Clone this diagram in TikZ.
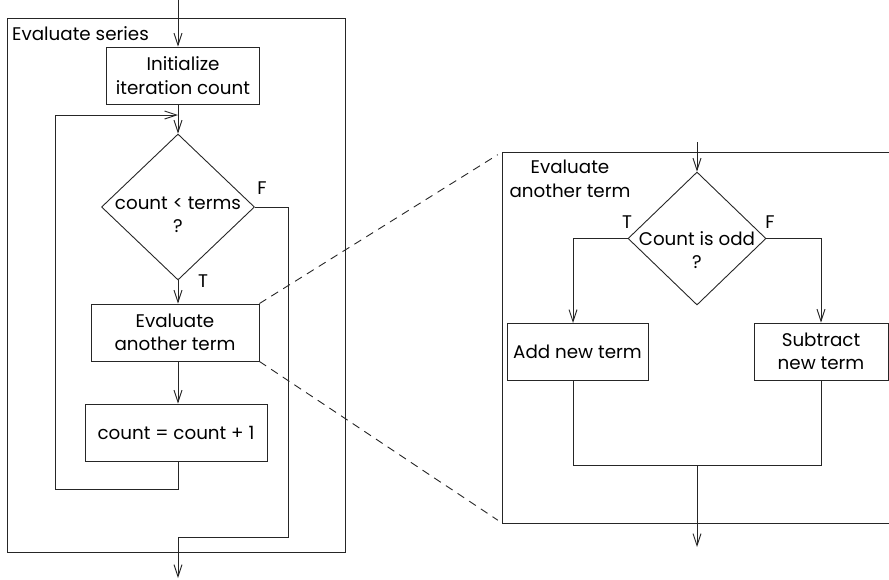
\documentclass[tikz,border=0pt]{standalone}
\usepackage{fontspec}
\setmainfont{Poppins}
\usetikzlibrary{arrows.meta,shapes.geometric}
\tikzset{
  x=1pt,y=-1pt,
  every node/.style={font=\fontsize{18.3}{23.5}\selectfont, align=center},
  line/.style={draw=black!85, line width=0.9pt},
  arr/.style={line, -{Straight Barb[length=12pt,width=8pt]}},
  box/.style={draw=black!85, line width=0.9pt, rectangle, inner sep=0pt, minimum height=57pt},
  dia/.style={draw=black!85, line width=0.9pt, diamond, inner sep=0pt},
  lbl/.style={inner sep=0pt},
}
\begin{document}
\begin{tikzpicture}
\useasboundingbox (0,0) rectangle (889,579);
% ---------- left panel ----------
\draw[line] (7,18) rectangle (345,552);
\node[lbl, anchor=west] (serieslbl) at (12,34) {Evaluate series};
\coordinate (topin) at (178,0);
\node[box, minimum width=153pt] (init) at (183,75.5) {Initialize\\iteration count};
\node[dia, minimum width=153pt, minimum height=146pt] (d1) at (178,207) {};
\node[lbl] (d1t) at (178,215) {count < terms\\?};
\node[lbl] (F1) at (262,188) {F};
\node[lbl] (T1) at (203,281) {T};
\node[box, minimum width=168pt] (eval) at (175,332.5) {Evaluate\\another term};
\node[box, minimum width=182pt] (cnt) at (176,432.5) {count = count + 1};
\coordinate (loopjoin) at (178,115);
\coordinate (exitpt) at (178,578);

\draw[arr] (topin) -- (topin |- init.north);
\draw[arr] (init.south -| topin) -- (d1.north);
\draw[arr] (d1.south) -- (eval.north -| d1.south);
\draw[arr] (eval.south -| d1.south) -- (cnt.north -| d1.south);
\draw[arr] (cnt.south -| d1.south) -- (178,489) -- (55,489) -- (55,115) -- (loopjoin);
\draw[arr] (d1.east) -- (288,207) -- (288,537) -- (178,537) -- (exitpt);

% ---------- right panel ----------
\draw[line] (889,152) -- (502,152) -- (502,523) -- (889,523);
\coordinate (pTL) at (502,152);
\coordinate (pBL) at (502,523);
\draw[line, dashed, dash pattern=on 8pt off 6pt, shorten >=5pt] (eval.north east) -- (pTL);
\draw[line, dashed, dash pattern=on 8pt off 6pt, shorten >=5pt] (eval.south east) -- (pBL);
\node[lbl] (panellbl) at (570,179) {Evaluate\\another term};
\coordinate (rin) at (697,142);
\node[dia, minimum width=138pt, minimum height=133pt] (d2) at (697,238.5) {};
\node[lbl] (d2t) at (697,250) {Count is odd\\?};
\node[lbl] (T2) at (627,222) {T};
\node[lbl] (F2) at (770,222) {F};
\node[box, minimum width=141pt] (add) at (577.5,351.5) {Add new term};
\node[box, minimum width=134pt] (sub) at (821,351.5) {Subtract\\new term};
\coordinate (rout) at (697,547);

\draw[arr] (rin) -- (d2.north);
\draw[arr] (d2.west) -- (573,238.5) -- (573,323);
\draw[arr] (d2.east) -- (821,238.5) -- (sub.north);
\draw[line] (add.south -| 573,0) -- (573,465) -- (821,465) -- (sub.south);
\draw[arr] (697,465) -- (rout);
\end{tikzpicture}
\end{document}
